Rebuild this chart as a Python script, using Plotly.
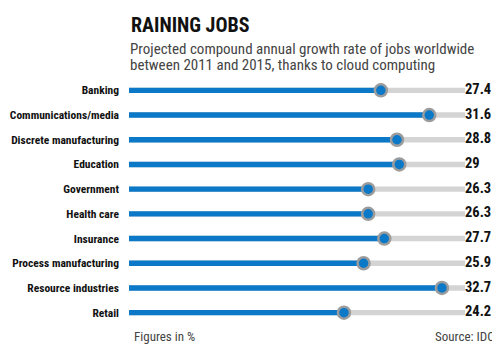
import plotly.graph_objects as go

categories = ["Banking", "Communications/media", "Discrete manufacturing", "Education",
              "Government", "Health care", "Insurance", "Process manufacturing",
              "Resource industries", "Retail"]
values = [27.4, 31.6, 28.8, 29, 26.3, 26.3, 27.7, 25.9, 32.7, 24.2]

X_START = 5.55
X_END = 34.7
BLUE = "#0b78c8"
TRACK = "#d4d4d4"
RING = "#9c9c9c"
COND = "Roboto Condensed, Open Sans Condensed, sans-serif"

# page body has an 8px default margin; the figure fills the rest of the 500x355 window
OFF = 8
W, H = 500 - OFF, 355 - OFF
# margins expressed in window pixels
ML, MR, MT, MB = 129 - OFF, 35, 78 - OFF, 30
PW, PH = W - ML - MR, H - MT - MB

def px(x):
    return (x - OFF - ML) / PW

def py(y):
    return (H - MB - (y - OFF)) / PH

idx = list(range(len(categories)))
fig = go.Figure()
fig.add_trace(go.Bar(y=idx, x=[X_END - X_START] * len(idx), base=X_START, orientation="h",
                     marker=dict(color=TRACK, line=dict(width=0)), width=0.22, hoverinfo="skip"))
fig.add_trace(go.Bar(y=idx, x=[v - X_START for v in values], base=X_START, orientation="h",
                     marker=dict(color=BLUE, line=dict(width=0)), width=0.22, hoverinfo="skip"))
fig.add_trace(go.Scatter(y=idx, x=values, mode="markers",
                         marker=dict(size=12, color=BLUE, line=dict(color=RING, width=2.5))))
fig.add_trace(go.Scatter(y=idx, x=[X_END] * len(idx), mode="text",
                         text=[f"<b>{v:g}</b>" for v in values], textposition="middle right",
                         textfont=dict(family=COND, size=14.5, color="#111111"), cliponaxis=False))

fig.update_layout(
    width=W, height=H, barmode="overlay", showlegend=False,
    paper_bgcolor="white", plot_bgcolor="white",
    margin=dict(l=ML, r=MR, t=MT, b=MB, autoexpand=False),
    xaxis=dict(range=[X_START, X_END], visible=False, fixedrange=True, automargin=False),
    yaxis=dict(range=[9.5, -0.5], tickvals=idx, ticktext=[f"<b>{c}</b>" for c in categories],
               showgrid=False, automargin=False,
               zeroline=False, showline=False, ticks="", ticklabelstandoff=9,
               tickfont=dict(family=COND, size=11.5, color="#111111"), fixedrange=True),
    font=dict(family=COND),
)

texts = [
    ("<b>RAINING JOBS</b>", 129, 11, 20, "#111111", "left"),
    ("Projected compound annual growth rate of jobs worldwide", 128, 38, 15, "#444444", "left"),
    ("between 2011 and 2015, thanks to cloud computing", 128, 54, 15, "#444444", "left"),
    ("Figures in %", 132, 327, 13, "#444444", "left"),
    ("Source: IDC", 497, 327, 13, "#444444", "right"),
]
for t, x, y, s, c, anc in texts:
    fig.add_annotation(text=t, x=px(x), y=py(y), xref="paper", yref="paper",
                       xanchor=anc, yanchor="top", showarrow=False,
                       font=dict(family=COND, size=s, color=c))
fig.write_html("out.html")
